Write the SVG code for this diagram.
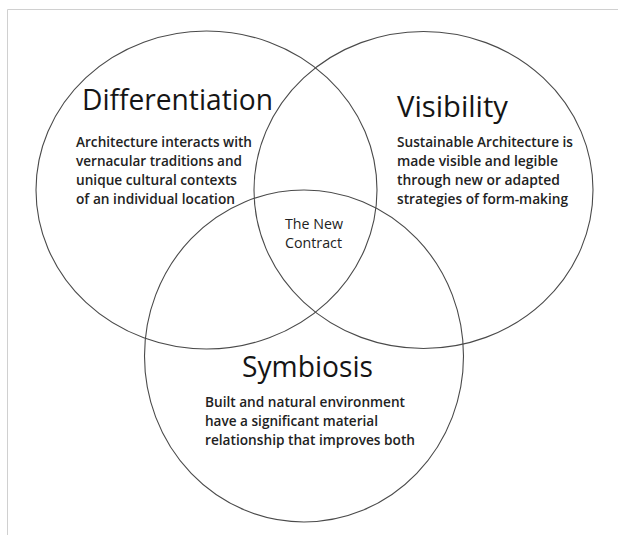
<svg xmlns="http://www.w3.org/2000/svg" width="618" height="535" viewBox="0 0 618 535">
<style>
.ring{fill:none;stroke:#4a4a4a;stroke-width:1.1}
.frame{stroke:#d0d0d0;stroke-width:1;fill:none}
.title{font-family:"Open Sans","Noto Sans","Liberation Sans",sans-serif;font-size:30px;fill:#151515}
.body{font-family:"Open Sans","Noto Sans","Liberation Sans",sans-serif;font-size:14px;font-weight:600;fill:#222}
.center{font-family:"Open Sans","Noto Sans","Liberation Sans",sans-serif;font-size:14px;font-weight:500;fill:#222}
</style>
<rect width="618" height="535" fill="#fff"/>
<path class="frame" d="M7.5 535V9.5H618"/>
<g id="differentiation">
<ellipse class="ring" cx="206.5" cy="190" rx="170.5" ry="159"/>
<text class="title" x="82" y="110" textLength="191" lengthAdjust="spacingAndGlyphs">Differentiation</text>
<text class="body" x="76" y="147" textLength="176" lengthAdjust="spacingAndGlyphs">Architecture interacts with</text>
<text class="body" x="76" y="166" textLength="166" lengthAdjust="spacingAndGlyphs">vernacular traditions and</text>
<text class="body" x="76" y="185" textLength="161" lengthAdjust="spacingAndGlyphs">unique cultural contexts</text>
<text class="body" x="76" y="204" textLength="159" lengthAdjust="spacingAndGlyphs">of an individual location</text>
</g>
<g id="visibility">
<ellipse class="ring" cx="423.5" cy="190" rx="169.5" ry="158.5"/>
<text class="title" x="397" y="117" textLength="111" lengthAdjust="spacingAndGlyphs">Visibility</text>
<text class="body" x="397" y="147" textLength="176" lengthAdjust="spacingAndGlyphs">Sustainable Architecture is</text>
<text class="body" x="397" y="166" textLength="161" lengthAdjust="spacingAndGlyphs">made visible and legible</text>
<text class="body" x="397" y="185" textLength="163" lengthAdjust="spacingAndGlyphs">through new or adapted</text>
<text class="body" x="397" y="204" textLength="171" lengthAdjust="spacingAndGlyphs">strategies of form-making</text>
</g>
<g id="symbiosis">
<ellipse class="ring" cx="304" cy="356" rx="159.5" ry="166"/>
<text class="title" x="242" y="377" textLength="131" lengthAdjust="spacingAndGlyphs">Symbiosis</text>
<text class="body" x="205" y="407" textLength="200" lengthAdjust="spacingAndGlyphs">Built and natural environment</text>
<text class="body" x="205" y="426" textLength="173" lengthAdjust="spacingAndGlyphs">have a significant material</text>
<text class="body" x="205" y="445" textLength="210" lengthAdjust="spacingAndGlyphs">relationship that improves both</text>
</g>
<g id="new-contract">
<text class="center" x="285" y="229" textLength="58" lengthAdjust="spacingAndGlyphs">The New</text>
<text class="center" x="285" y="248" textLength="57" lengthAdjust="spacingAndGlyphs">Contract</text>
</g>
<g id="connectors"/>
</svg>
